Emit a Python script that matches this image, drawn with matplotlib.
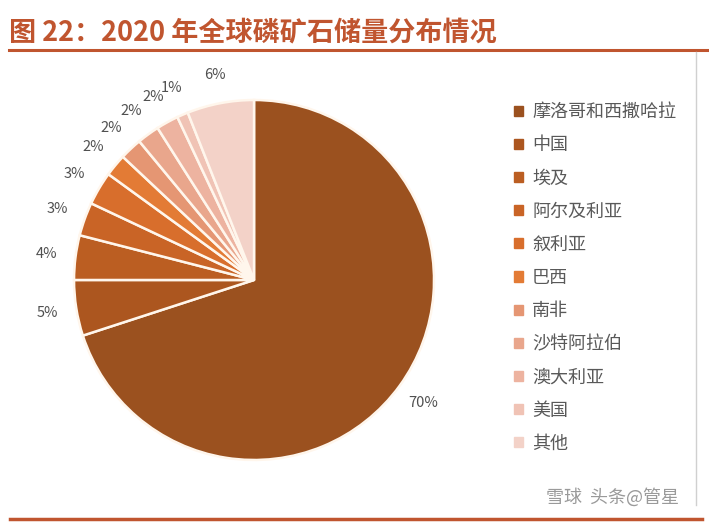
import numpy as np
import matplotlib.pyplot as plt

plt.rcParams['font.family'] = ['Noto Sans CJK SC', 'DejaVu Sans']

# data
countries = ['摩洛哥和西撒哈拉', '中国', '埃及', '阿尔及利亚', '叙利亚', '巴西',
             '南非', '沙特阿拉伯', '澳大利亚', '美国', '其他']
shares = [70, 5, 4, 3, 3, 2, 2, 2, 2, 1, 6]
colors = ['#9B511F', '#AC561F', '#BB5E22', '#C96426', '#D86E2C', '#E37B35',
          '#E59673', '#E9A68C', '#EDB3A0', '#F0C3B5', '#F3D2C8']

fig = plt.figure(figsize=(7.09, 5.23), dpi=100)

# title and rules
fig.text(0.013, 0.937, '图 22：2020 年全球磷矿石储量分布情况', fontsize=19.5,
         fontweight='bold', color='#C0552F', va='center')
fig.add_artist(plt.Line2D([0.012, 1.0], [0.904, 0.904], color='#C0552F', lw=2.2))
fig.add_artist(plt.Line2D([0.014, 0.99], [0.008, 0.008], color='#C0552F', lw=2.5))
fig.add_artist(plt.Line2D([0.981, 0.981], [0.035, 0.90], color='#D0D0D0', lw=1))

# pie
ax = fig.add_axes([0.1044, 0.1205, 0.5078, 0.6883])
wedges, texts = ax.pie(shares, colors=colors, startangle=90, counterclock=False,
                       wedgeprops=dict(edgecolor='#FFF6EC', linewidth=1.8))
ax.set_xlim(-1, 1)
ax.set_ylim(-1, 1)
ax.set_aspect('equal')
for w, v in zip(wedges, shares):
    ang = np.deg2rad((w.theta1 + w.theta2) / 2)
    r = 1.16
    ax.text(r * np.cos(ang), r * np.sin(ang), f'{v}%', ha='center', va='center',
            fontsize=10.5, color='#505050', clip_on=False)

# legend
handles = [plt.Rectangle((0, 0), 1, 1, color=c) for c in colors]
fig.legend(handles, countries, loc='upper left', bbox_to_anchor=(0.702, 0.834),
           frameon=False, fontsize=13, labelcolor='#595959',
           handlelength=0.5, handleheight=0.5, handletextpad=0.5,
           labelspacing=0.84)

# watermark
fig.text(0.77, 0.05, '雪球  头条@管星', fontsize=13, color='#9A9A9A', va='center')

fig.savefig('out.png', dpi=100)
